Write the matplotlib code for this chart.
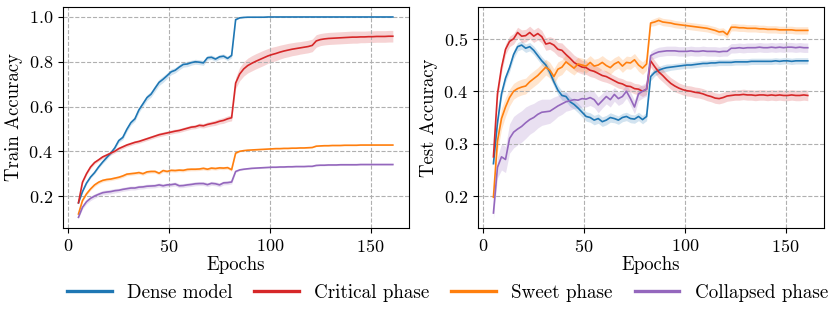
import numpy as np
import matplotlib
matplotlib.use("Agg")
import matplotlib.pyplot as plt

plt.rcParams['font.family'] = 'cmr10'
plt.rcParams['mathtext.fontset'] = 'cm'
plt.rcParams['axes.formatter.use_mathtext'] = True
plt.rcParams['font.size'] = 13.5
plt.rcParams['xtick.labelsize'] = 13
plt.rcParams['ytick.labelsize'] = 13

# epochs (every 2nd epoch)
epochs = list(range(5, 162, 2))

labels = ['Dense model', 'Critical phase', 'Sweet phase', 'Collapsed phase']
colors = ['#1f77b4', '#d62728', '#ff7f0e', '#9467bd']

# ---- Train accuracy ----
train_dense = [0.170, 0.220, 0.258, 0.285, 0.305, 0.330, 0.352, 0.372, 0.392, 0.415,
               0.448, 0.462, 0.498, 0.528, 0.545, 0.585, 0.612, 0.640, 0.655, 0.682,
               0.708, 0.722, 0.738, 0.755, 0.762, 0.776, 0.788, 0.790, 0.796, 0.800,
               0.798, 0.795, 0.818, 0.820, 0.812, 0.822, 0.825, 0.815, 0.828, 0.988,
               0.996, 0.998, 0.999, 0.999, 0.999, 0.999, 0.999, 1.000, 1.000, 1.000,
               1.000, 1.000, 1.000, 1.000, 1.000, 1.000, 1.000, 1.000, 1.000, 1.000,
               1.000, 1.000, 1.000, 1.000, 1.000, 1.000, 1.000, 1.000, 1.000, 1.000,
               1.000, 1.000, 1.000, 1.000, 1.000, 1.000, 1.000, 1.000, 1.000]
train_dense_std = [0.003, 0.004, 0.005, 0.005, 0.006, 0.006, 0.007, 0.008, 0.008, 0.008,
                   0.009, 0.010, 0.010, 0.011, 0.011, 0.012, 0.012, 0.013, 0.013, 0.014,
                   0.014, 0.014, 0.013, 0.013, 0.012, 0.012, 0.012, 0.012, 0.011, 0.011,
                   0.011, 0.011, 0.010, 0.010, 0.010, 0.010, 0.010, 0.010, 0.010, 0.003,
                   0.001, 0.001, 0.001, 0.001, 0.001, 0.001, 0.001, 0.001, 0.001, 0.001,
                   0.001, 0.001, 0.001, 0.001, 0.001, 0.001, 0.001, 0.001, 0.001, 0.001,
                   0.001, 0.001, 0.001, 0.001, 0.001, 0.001, 0.001, 0.001, 0.001, 0.001,
                   0.001, 0.001, 0.001, 0.001, 0.001, 0.001, 0.001, 0.001, 0.001]

train_critical = [0.170, 0.262, 0.300, 0.330, 0.350, 0.362, 0.375, 0.383, 0.392, 0.400,
                  0.412, 0.420, 0.428, 0.434, 0.440, 0.444, 0.450, 0.456, 0.462, 0.468,
                  0.474, 0.478, 0.482, 0.486, 0.490, 0.493, 0.498, 0.503, 0.508, 0.510,
                  0.516, 0.514, 0.520, 0.524, 0.528, 0.534, 0.538, 0.545, 0.550, 0.705,
                  0.745, 0.768, 0.783, 0.793, 0.802, 0.810, 0.818, 0.826, 0.832, 0.837,
                  0.843, 0.848, 0.852, 0.856, 0.859, 0.862, 0.865, 0.868, 0.873, 0.893,
                  0.899, 0.902, 0.904, 0.905, 0.906, 0.907, 0.908, 0.909, 0.910, 0.910,
                  0.911, 0.911, 0.912, 0.912, 0.913, 0.913, 0.913, 0.914, 0.914]
train_critical_std = [0.004, 0.006, 0.006, 0.007, 0.007, 0.007, 0.007, 0.007, 0.008, 0.008,
                      0.008, 0.008, 0.008, 0.008, 0.008, 0.008, 0.008, 0.008, 0.008, 0.008,
                      0.009, 0.009, 0.009, 0.009, 0.009, 0.009, 0.009, 0.009, 0.009, 0.009,
                      0.010, 0.010, 0.011, 0.011, 0.012, 0.012, 0.013, 0.013, 0.014, 0.025,
                      0.030, 0.032, 0.033, 0.034, 0.034, 0.034, 0.034, 0.033, 0.033, 0.032,
                      0.031, 0.030, 0.030, 0.029, 0.029, 0.028, 0.028, 0.028, 0.028, 0.028,
                      0.027, 0.027, 0.027, 0.027, 0.027, 0.027, 0.027, 0.027, 0.027, 0.027,
                      0.026, 0.026, 0.026, 0.026, 0.026, 0.026, 0.026, 0.026, 0.026]

train_sweet = [0.120, 0.180, 0.210, 0.232, 0.250, 0.262, 0.270, 0.274, 0.276, 0.280,
               0.284, 0.290, 0.298, 0.300, 0.302, 0.305, 0.300, 0.308, 0.310, 0.310,
               0.302, 0.314, 0.310, 0.315, 0.314, 0.316, 0.315, 0.319, 0.320, 0.320,
               0.321, 0.324, 0.320, 0.325, 0.323, 0.326, 0.325, 0.327, 0.318, 0.392,
               0.400, 0.403, 0.405, 0.406, 0.407, 0.408, 0.409, 0.410, 0.411, 0.412,
               0.412, 0.413, 0.413, 0.414, 0.414, 0.415, 0.415, 0.416, 0.417, 0.423,
               0.424, 0.425, 0.425, 0.426, 0.426, 0.426, 0.427, 0.427, 0.427, 0.427,
               0.428, 0.428, 0.428, 0.428, 0.428, 0.428, 0.428, 0.428, 0.428]
train_sweet_std = [0.003, 0.005, 0.006, 0.006, 0.007, 0.007, 0.007, 0.007, 0.007, 0.007,
                   0.007, 0.007, 0.007, 0.007, 0.007, 0.007, 0.007, 0.007, 0.007, 0.007,
                   0.007, 0.007, 0.007, 0.007, 0.007, 0.007, 0.007, 0.007, 0.007, 0.007,
                   0.007, 0.007, 0.007, 0.007, 0.007, 0.007, 0.007, 0.007, 0.007, 0.004,
                   0.002, 0.002, 0.002, 0.002, 0.002, 0.002, 0.002, 0.002, 0.002, 0.002,
                   0.002, 0.002, 0.002, 0.002, 0.002, 0.002, 0.002, 0.002, 0.002, 0.002,
                   0.002, 0.002, 0.002, 0.002, 0.002, 0.002, 0.002, 0.002, 0.002, 0.002,
                   0.002, 0.002, 0.002, 0.002, 0.002, 0.002, 0.002, 0.002, 0.002]

train_collapsed = [0.105, 0.150, 0.175, 0.190, 0.200, 0.208, 0.215, 0.218, 0.220, 0.224,
                   0.226, 0.230, 0.233, 0.236, 0.236, 0.240, 0.241, 0.244, 0.245, 0.246,
                   0.250, 0.246, 0.250, 0.251, 0.254, 0.246, 0.247, 0.250, 0.252, 0.255,
                   0.256, 0.256, 0.251, 0.257, 0.255, 0.250, 0.259, 0.260, 0.263, 0.310,
                   0.317, 0.320, 0.322, 0.324, 0.325, 0.326, 0.327, 0.328, 0.329, 0.329,
                   0.330, 0.330, 0.331, 0.331, 0.332, 0.332, 0.332, 0.333, 0.333, 0.337,
                   0.338, 0.338, 0.339, 0.339, 0.339, 0.340, 0.340, 0.340, 0.340, 0.340,
                   0.341, 0.341, 0.341, 0.341, 0.341, 0.341, 0.341, 0.341, 0.341]
train_collapsed_std = [0.004, 0.008, 0.010, 0.010, 0.010, 0.010, 0.010, 0.010, 0.010, 0.010,
                       0.009, 0.009, 0.009, 0.009, 0.009, 0.009, 0.009, 0.009, 0.009, 0.009,
                       0.009, 0.009, 0.009, 0.009, 0.009, 0.009, 0.009, 0.009, 0.009, 0.009,
                       0.009, 0.009, 0.009, 0.009, 0.009, 0.009, 0.009, 0.009, 0.009, 0.005,
                       0.003, 0.003, 0.003, 0.003, 0.003, 0.003, 0.003, 0.003, 0.003, 0.003,
                       0.003, 0.003, 0.003, 0.003, 0.003, 0.003, 0.003, 0.003, 0.003, 0.003,
                       0.003, 0.003, 0.003, 0.003, 0.003, 0.003, 0.003, 0.003, 0.003, 0.003,
                       0.003, 0.003, 0.003, 0.003, 0.003, 0.003, 0.003, 0.003, 0.003]

# ---- Test accuracy ----
test_dense = [0.262, 0.340, 0.395, 0.425, 0.445, 0.470, 0.485, 0.488, 0.482, 0.485,
              0.478, 0.468, 0.458, 0.450, 0.436, 0.418, 0.402, 0.392, 0.390, 0.380,
              0.375, 0.368, 0.360, 0.352, 0.350, 0.345, 0.348, 0.342, 0.345, 0.350,
              0.348, 0.345, 0.350, 0.352, 0.348, 0.347, 0.352, 0.346, 0.352, 0.428,
              0.436, 0.440, 0.443, 0.445, 0.446, 0.447, 0.448, 0.449, 0.450, 0.450,
              0.451, 0.452, 0.453, 0.453, 0.454, 0.454, 0.455, 0.455, 0.455, 0.455,
              0.456, 0.456, 0.456, 0.456, 0.457, 0.457, 0.457, 0.457, 0.457, 0.457,
              0.458, 0.457, 0.458, 0.458, 0.457, 0.458, 0.458, 0.458, 0.458]
test_dense_std = [0.004, 0.008, 0.008, 0.008, 0.008, 0.008, 0.008, 0.008, 0.008, 0.008,
                  0.008, 0.008, 0.008, 0.008, 0.009, 0.009, 0.009, 0.009, 0.009, 0.009,
                  0.009, 0.009, 0.009, 0.009, 0.009, 0.009, 0.009, 0.009, 0.009, 0.009,
                  0.008, 0.008, 0.008, 0.008, 0.008, 0.008, 0.008, 0.008, 0.008, 0.008,
                  0.007, 0.007, 0.007, 0.007, 0.006, 0.006, 0.006, 0.006, 0.006, 0.006,
                  0.006, 0.006, 0.006, 0.006, 0.006, 0.006, 0.006, 0.006, 0.006, 0.006,
                  0.006, 0.006, 0.006, 0.006, 0.006, 0.006, 0.006, 0.006, 0.006, 0.006,
                  0.006, 0.006, 0.006, 0.006, 0.006, 0.006, 0.006, 0.006, 0.006]

test_critical = [0.275, 0.395, 0.445, 0.480, 0.495, 0.500, 0.512, 0.505, 0.506, 0.512,
                 0.505, 0.510, 0.504, 0.490, 0.492, 0.488, 0.480, 0.478, 0.470, 0.463,
                 0.455, 0.450, 0.446, 0.445, 0.440, 0.438, 0.434, 0.430, 0.428, 0.424,
                 0.420, 0.416, 0.414, 0.410, 0.409, 0.405, 0.404, 0.400, 0.404, 0.458,
                 0.447, 0.437, 0.430, 0.422, 0.415, 0.410, 0.406, 0.403, 0.401, 0.400,
                 0.398, 0.397, 0.395, 0.392, 0.390, 0.387, 0.386, 0.388, 0.391, 0.392,
                 0.393, 0.393, 0.394, 0.393, 0.393, 0.392, 0.393, 0.393, 0.392, 0.393,
                 0.392, 0.393, 0.392, 0.392, 0.393, 0.392, 0.392, 0.393, 0.392]
test_critical_std = [0.005, 0.010, 0.010, 0.010, 0.010, 0.010, 0.010, 0.012, 0.012, 0.012,
                     0.012, 0.012, 0.012, 0.012, 0.012, 0.013, 0.013, 0.014, 0.014, 0.014,
                     0.014, 0.014, 0.013, 0.013, 0.012, 0.012, 0.012, 0.011, 0.011, 0.010,
                     0.010, 0.010, 0.010, 0.010, 0.010, 0.010, 0.010, 0.010, 0.010, 0.012,
                     0.012, 0.012, 0.012, 0.011, 0.011, 0.011, 0.010, 0.010, 0.010, 0.010,
                     0.010, 0.010, 0.010, 0.010, 0.010, 0.010, 0.010, 0.010, 0.010, 0.010,
                     0.010, 0.010, 0.010, 0.010, 0.010, 0.010, 0.010, 0.010, 0.010, 0.010,
                     0.010, 0.010, 0.010, 0.010, 0.010, 0.010, 0.010, 0.010, 0.010]

test_sweet = [0.198, 0.305, 0.348, 0.370, 0.388, 0.400, 0.405, 0.408, 0.410, 0.418,
              0.424, 0.430, 0.438, 0.446, 0.440, 0.428, 0.442, 0.446, 0.456, 0.450,
              0.444, 0.452, 0.450, 0.448, 0.455, 0.448, 0.450, 0.455, 0.449, 0.445,
              0.452, 0.456, 0.448, 0.455, 0.454, 0.460, 0.450, 0.444, 0.452, 0.530,
              0.532, 0.535, 0.532, 0.531, 0.530, 0.528, 0.527, 0.526, 0.525, 0.524,
              0.523, 0.522, 0.521, 0.520, 0.518, 0.516, 0.513, 0.514, 0.508, 0.522,
              0.522, 0.521, 0.521, 0.520, 0.520, 0.520, 0.519, 0.519, 0.518, 0.518,
              0.518, 0.517, 0.517, 0.517, 0.517, 0.516, 0.516, 0.516, 0.516]
test_sweet_std = [0.005, 0.020, 0.020, 0.018, 0.016, 0.015, 0.015, 0.015, 0.015, 0.015,
                  0.015, 0.015, 0.015, 0.015, 0.015, 0.015, 0.014, 0.014, 0.014, 0.014,
                  0.013, 0.013, 0.013, 0.013, 0.013, 0.013, 0.013, 0.013, 0.013, 0.013,
                  0.012, 0.012, 0.012, 0.012, 0.012, 0.012, 0.012, 0.012, 0.012, 0.006,
                  0.007, 0.007, 0.007, 0.007, 0.007, 0.007, 0.007, 0.007, 0.007, 0.007,
                  0.007, 0.007, 0.007, 0.007, 0.007, 0.007, 0.007, 0.007, 0.007, 0.007,
                  0.007, 0.007, 0.007, 0.007, 0.007, 0.007, 0.007, 0.007, 0.007, 0.007,
                  0.007, 0.007, 0.007, 0.007, 0.007, 0.007, 0.007, 0.007, 0.007]

test_collapsed = [0.168, 0.255, 0.275, 0.270, 0.310, 0.322, 0.328, 0.333, 0.340, 0.346,
                  0.350, 0.356, 0.360, 0.361, 0.362, 0.367, 0.372, 0.376, 0.380, 0.382,
                  0.384, 0.383, 0.386, 0.385, 0.388, 0.384, 0.374, 0.382, 0.390, 0.384,
                  0.394, 0.386, 0.390, 0.400, 0.386, 0.370, 0.395, 0.400, 0.404, 0.468,
                  0.472, 0.475, 0.476, 0.477, 0.477, 0.477, 0.476, 0.476, 0.476, 0.477,
                  0.476, 0.476, 0.477, 0.476, 0.476, 0.476, 0.475, 0.476, 0.476, 0.482,
                  0.482, 0.483, 0.482, 0.483, 0.483, 0.483, 0.484, 0.483, 0.483, 0.484,
                  0.483, 0.484, 0.483, 0.484, 0.484, 0.483, 0.484, 0.483, 0.483]
test_collapsed_std = [0.010, 0.020, 0.025, 0.025, 0.028, 0.030, 0.030, 0.030, 0.030, 0.028,
                      0.027, 0.026, 0.025, 0.024, 0.023, 0.022, 0.020, 0.020, 0.018, 0.018,
                      0.017, 0.016, 0.016, 0.015, 0.015, 0.015, 0.015, 0.014, 0.014, 0.014,
                      0.013, 0.013, 0.013, 0.013, 0.013, 0.013, 0.013, 0.013, 0.013, 0.008,
                      0.009, 0.009, 0.009, 0.009, 0.009, 0.009, 0.009, 0.009, 0.009, 0.009,
                      0.009, 0.009, 0.009, 0.009, 0.009, 0.009, 0.009, 0.009, 0.009, 0.009,
                      0.009, 0.009, 0.009, 0.009, 0.009, 0.009, 0.009, 0.009, 0.009, 0.009,
                      0.009, 0.009, 0.009, 0.009, 0.009, 0.009, 0.009, 0.009, 0.009]

train_curves = [(train_dense, train_dense_std), (train_critical, train_critical_std),
                (train_sweet, train_sweet_std), (train_collapsed, train_collapsed_std)]
test_curves = [(test_dense, test_dense_std), (test_critical, test_critical_std),
               (test_sweet, test_sweet_std), (test_collapsed, test_collapsed_std)]

fig, axes = plt.subplots(1, 2, figsize=(8.31, 3.18), dpi=100)
x = np.array(epochs)

for ax, curves, ylab in [(axes[0], train_curves, 'Train Accuracy'),
                         (axes[1], test_curves, 'Test Accuracy')]:
    for (m, s), c, lab in zip(curves, colors, labels):
        m = np.array(m)
        s = np.array(s)
        ax.plot(x, m, color=c, lw=1.2, label=lab)
        ax.fill_between(x, m - s, m + s, color=c, alpha=0.2, lw=0)
    ax.set_xlabel('Epochs', labelpad=1)
    ax.set_ylabel(ylab, labelpad=4)
    ax.grid(True, linestyle='--', color='#b0b0b0', lw=0.8)
    ax.set_xticks([0, 50, 100, 150])

axes[0].set_yticks([0.2, 0.4, 0.6, 0.8, 1.0])
axes[1].set_yticks([0.2, 0.3, 0.4, 0.5])

handles, labs = axes[0].get_legend_handles_labels()
leg = fig.legend(handles, labs, loc='center', bbox_to_anchor=(0.5385, 0.08), ncol=4,
                 frameon=False, fontsize=13.7, handlelength=2.35, handletextpad=0.8,
                 columnspacing=1.15, borderaxespad=0, borderpad=0)
for h in leg.get_lines():
    h.set_linewidth(2.4)

plt.subplots_adjust(left=0.0755, right=0.991, bottom=0.282, top=0.979, wspace=0.2)
fig.savefig('out.png', dpi=100)
